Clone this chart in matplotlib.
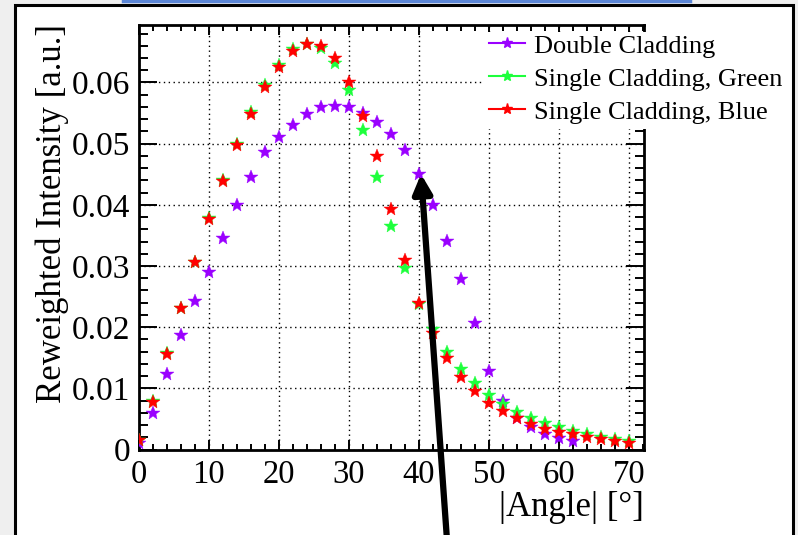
import numpy as np
import matplotlib
matplotlib.use("Agg")
import matplotlib.pyplot as plt
from matplotlib.patches import Rectangle
from matplotlib.lines import Line2D
from matplotlib.ticker import MultipleLocator

plt.rcParams['font.family'] = ['Liberation Serif', 'DejaVu Serif']

angles = list(range(0, 72, 2))
angles_double = list(range(0, 64, 2))

double_cladding = [0.0011, 0.0060, 0.0123, 0.0188, 0.0243, 0.0291, 0.0346, 0.0399,
                   0.0446, 0.0486, 0.0511, 0.0531, 0.0548, 0.0560, 0.0562, 0.0560,
                   0.0550, 0.0535, 0.0516, 0.0490, 0.0451, 0.0400, 0.0341, 0.0278,
                   0.0206, 0.0128, 0.0079, 0.0052, 0.0037, 0.0026, 0.0018, 0.0014]
single_green = [0.0016, 0.0079, 0.0157, 0.0232, 0.0307, 0.0379, 0.0441, 0.0500,
                0.0551, 0.0596, 0.0629, 0.0654, 0.0663, 0.0656, 0.0632, 0.0587,
                0.0523, 0.0445, 0.0366, 0.0297, 0.0238, 0.0197, 0.0160, 0.0131,
                0.0108, 0.0089, 0.0074, 0.0061, 0.0051, 0.0043, 0.0036, 0.0031,
                0.0025, 0.0021, 0.0017, 0.0014]
single_blue = [0.0015, 0.0078, 0.0156, 0.0231, 0.0306, 0.0377, 0.0439, 0.0498,
               0.0548, 0.0592, 0.0626, 0.0652, 0.0663, 0.0659, 0.0640, 0.0601,
               0.0546, 0.0480, 0.0394, 0.0309, 0.0240, 0.0191, 0.0149, 0.0119,
               0.0096, 0.0076, 0.0063, 0.0051, 0.0041, 0.0033, 0.0029, 0.0025,
               0.0021, 0.0017, 0.0014, 0.0011]

labels = ["Double Cladding", "Single Cladding, Green", "Single Cladding, Blue"]
colors = ["#9a00ff", "#1dff3c", "#ff0000"]
xticks = [0, 10, 20, 30, 40, 50, 60, 70]
yticks = [0, 0.01, 0.02, 0.03, 0.04, 0.05, 0.06]
ytick_labels = ["0", "0.01", "0.02", "0.03", "0.04", "0.05", "0.06"]

W, H = 798, 535
fig = plt.figure(figsize=(W / 100, H / 100), dpi=100)
fig.patch.set_facecolor("#efefef")

# white panel with black border
fig.add_artist(Rectangle((15 / W, -0.05), (793 - 15) / W, (H - 5) / H + 0.05,
                         transform=fig.transFigure, facecolor="white",
                         edgecolor="black", linewidth=2.2, zorder=-1))
# blue bar at top
fig.add_artist(Line2D([123 / W, 690 / W], [1 - 0.8 / H, 1 - 0.8 / H],
                      transform=fig.transFigure, color="#5b86d6", linewidth=2.5))

L, R, T, B = 138.5, 644, 25, 449.5
ax = fig.add_axes([L / W, 1 - B / H, (R - L) / W, (B - T) / H])
ax.set_facecolor("none")

series = [(angles_double, double_cladding), (angles, single_green), (angles, single_blue)]
for (xs, ys), lab, c in zip(series, labels, colors):
    ax.plot(xs, ys, linestyle="none", marker="*", markersize=10.5,
            markeredgewidth=0.3, markeredgecolor=c, color=c, label=lab, zorder=3)

ax.set_xlim(0, 72.1)
ax.set_ylim(0, 0.0694)
ax.set_xticks(xticks)
ax.set_xticklabels([str(v) for v in xticks])
ax.set_yticks(yticks)
ax.set_yticklabels(ytick_labels)
ax.xaxis.set_minor_locator(MultipleLocator(2))
ax.yaxis.set_minor_locator(MultipleLocator(0.002))

ax.grid(True, which="major", color="black", linestyle=(0, (1, 2.5)), linewidth=1.0)
ax.set_axisbelow(True)

ax.tick_params(axis="both", which="both", direction="in", top=True, right=True,
               colors="black", width=1.4)
ax.tick_params(axis="y", which="major", length=13, labelsize=24, pad=6)
ax.tick_params(axis="y", which="minor", length=6.5)
ax.tick_params(axis="x", which="major", length=7.5, labelsize=23.5, pad=7)
ax.tick_params(axis="x", which="minor", length=4)
for s in ax.spines.values():
    s.set_linewidth(2)

fig.text(R / W, 1 - 507 / H, "|Angle| [°]", ha="right", va="center", fontsize=25)
fig.text(52 / W, 1 - 24 / H, "Reweighted Intensity [a.u.]", rotation=90,
         ha="center", va="top", fontsize=25)

# opaque legend box
fig.add_artist(Rectangle((484 / W, 1 - 129 / H), (790 - 484) / W, (129 - 32) / H,
                         transform=fig.transFigure, facecolor="white",
                         edgecolor="none", zorder=4))
handles = [Line2D([], [], color=c, marker="*", markersize=8, linewidth=1.5) for c in colors]
leg = fig.legend(handles, labels, loc="upper left", bbox_to_anchor=(476 / W, 1 - 21 / H),
                 bbox_transform=fig.transFigure, frameon=False, fontsize=19,
                 handlelength=1.35, handletextpad=0.35, labelspacing=0.36, borderpad=0)
leg.set_zorder(5)

ax.annotate("", xy=(421, H - 174), xycoords="figure pixels",
            xytext=(447, -5), textcoords="figure pixels",
            arrowprops=dict(arrowstyle="-|>", color="black", lw=4.5, mutation_scale=28,
                            shrinkA=0, shrinkB=0),
            annotation_clip=False)

fig.savefig("out.png", dpi=100)
